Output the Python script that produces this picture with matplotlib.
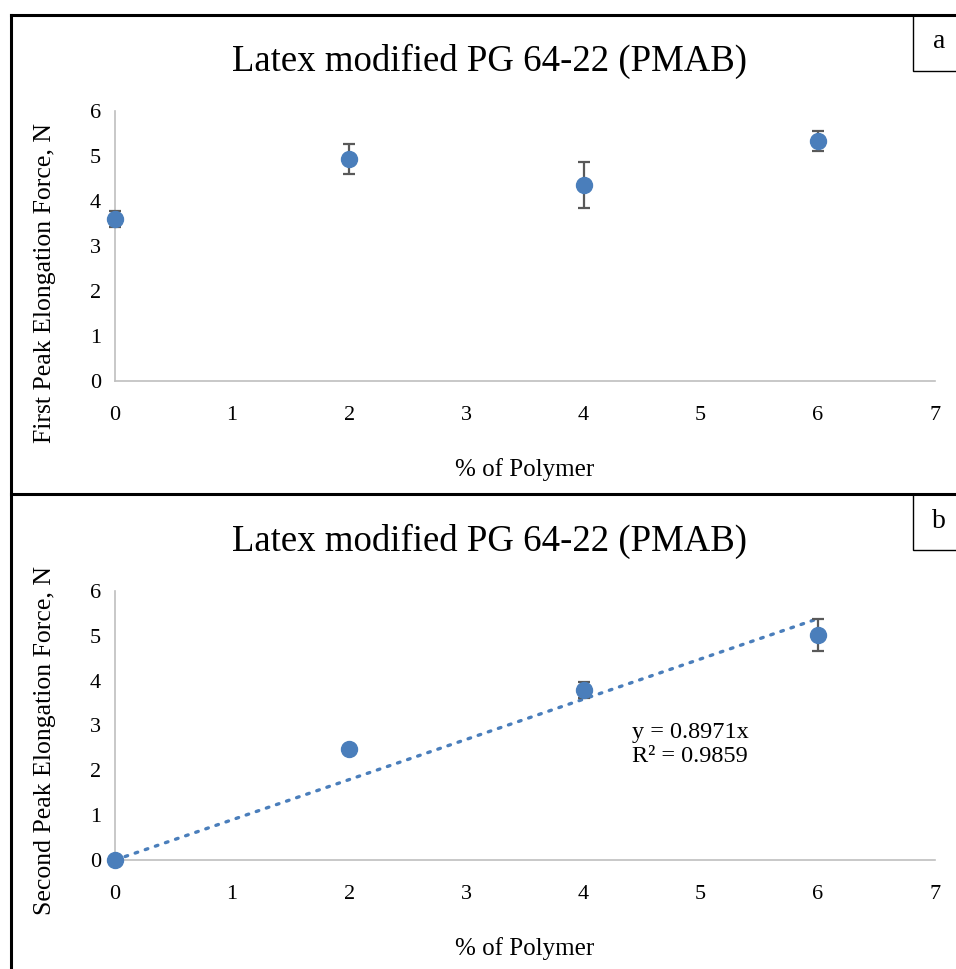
import matplotlib
matplotlib.use('Agg')
import matplotlib.pyplot as plt
from matplotlib.lines import Line2D
from matplotlib.patches import Rectangle

plt.rcParams['font.family'] = ['Liberation Serif', 'DejaVu Serif']

# data
polymer = [0, 2, 4, 6]
first_peak = [3.60, 4.93, 4.36, 5.33]
first_err = [0.17, 0.34, 0.51, 0.22]
second_peak = [0.0, 2.48, 3.80, 5.02]
second_err = [0.0, 0.0, 0.18, 0.36]
slope = 0.8971
r2 = 0.9859

title = 'Latex modified PG 64-22 (PMAB)'
blue = '#4A7EBB'
W, H = 956, 969


def fx(px):
    return px / W


def fy(py):
    return 1 - py / H


fig = plt.figure(figsize=(9.56, 9.69), dpi=100)


def make_axes(top, bottom, ylabel, ylab_y):
    ax = fig.add_axes([fx(115), fy(bottom), fx(935) - fx(115), fy(top) - fy(bottom)])
    ax.set_xlim(0, 7)
    ax.set_ylim(0, 6)
    ax.set_xticks(range(8))
    ax.set_yticks(range(7))
    for s in ['top', 'right']:
        ax.spines[s].set_visible(False)
    for s in ['left', 'bottom']:
        ax.spines[s].set_color('#BFBFBF')
        ax.spines[s].set_linewidth(1.2)
    ax.tick_params(length=0, labelsize=16)
    ax.tick_params(axis='x', pad=18)
    ax.tick_params(axis='y', pad=10)
    ax.set_xlabel('% of Polymer', fontsize=18, labelpad=24)
    ax.set_ylabel(ylabel, fontsize=18.5)
    ax.yaxis.set_label_coords(-0.072, ylab_y)
    ax.patch.set_alpha(0)
    return ax


# panel a
ax1 = make_axes(111, 381, 'First Peak Elongation Force, N', 0.363)
ax1.errorbar(polymer, first_peak, yerr=first_err, fmt='o', color=blue, ms=11.5,
             ecolor='#595959', elinewidth=1.6, capsize=4.3, capthick=1.6, clip_on=False, zorder=3)
fig.text(fx(490), fy(61), title, fontsize=26.5, ha='center', va='center')

# panel b
ax2 = make_axes(591, 860, 'Second Peak Elongation Force, N', 0.445)
fit_x = [0, 6]
fit_y = [slope * v for v in fit_x]
ax2.plot(fit_x, fit_y, color=blue, lw=2.4, linestyle=(0, (0.8, 2.4)),
         dash_capstyle='round', zorder=2)
ax2.errorbar(polymer, second_peak, yerr=second_err, fmt='o', color=blue, ms=11.5,
             ecolor='#595959', elinewidth=1.6, capsize=4.3, capthick=1.6, clip_on=False, zorder=3)
ax2.text(4.41, 2.57, 'y = %.4fx\nR² = %.4f' % (slope, r2), fontsize=17.5, ha='left', va='center',
         linespacing=1.2)
fig.text(fx(490), fy(541), title, fontsize=26.5, ha='center', va='center')

# outer frame and panel letters
k = dict(color='black', lw=2.2, transform=fig.transFigure)
fig.add_artist(Line2D([fx(11), 1], [fy(15), fy(15)], **k))
fig.add_artist(Line2D([fx(11), fx(11)], [fy(15), 0], **k))
fig.add_artist(Line2D([fx(11), 1], [fy(494), fy(494)], **k))
for top, bot, letter in [(15, 71, 'a'), (494, 550, 'b')]:
    fig.add_artist(Rectangle((fx(913), fy(bot)), fx(60), fy(top) - fy(bot),
                             transform=fig.transFigure, fill=True, facecolor='white',
                             edgecolor='black', lw=1.0))
    fig.text(fx(939), fy((top + bot) / 2 - 1), letter, fontsize=20, ha='center', va='center')

fig.savefig('out.png', dpi=100)
